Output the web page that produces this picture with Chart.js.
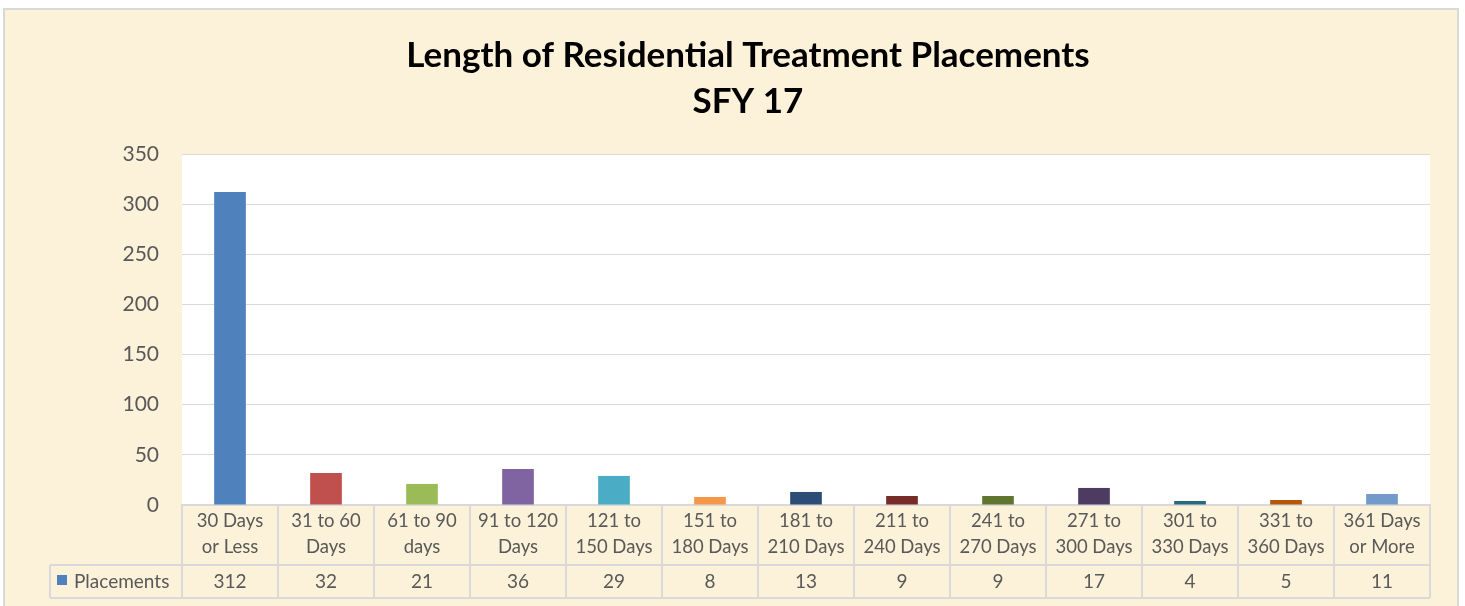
<!DOCTYPE html>
<html>
<head>
<meta charset="utf-8">
<script src="https://cdn.jsdelivr.net/npm/chart.js@4.4.0/dist/chart.umd.min.js"></script>
<style>
  html, body { margin: 0; padding: 0; background: #fff; }
  #wrap { position: relative; width: 1465px; height: 606px; }
</style>
</head>
<body>
<div id="wrap"><canvas id="grafico" width="1465" height="606"></canvas></div>
<script>
// dados
const categorias = [
  ['30 Days', 'or Less'], ['31 to 60', 'Days'], ['61 to 90', 'days'], ['91 to 120', 'Days'],
  ['121 to', '150 Days'], ['151 to', '180 Days'], ['181 to', '210 Days'], ['211 to', '240 Days'],
  ['241 to', '270 Days'], ['271 to', '300 Days'], ['301 to', '330 Days'], ['331 to', '360 Days'],
  ['361 Days', 'or More']
];
const placements = [312, 32, 21, 36, 29, 8, 13, 9, 9, 17, 4, 5, 11];
const serieNome = 'Placements';
const cores = [
  '#4F81BD', '#C0504D', '#9BBB59', '#8064A2', '#4BACC6', '#F79646', '#2C4D75',
  '#772C2A', '#5F7530', '#4D3B62', '#276A7C', '#B65708', '#729ACA'
];

const FONTE = "Lato, 'Open Sans', sans-serif";
const CINZA = '#595959';
const LINHA = '#d9d9d9';

// fundo, area branca e tabela de dados
const fundoPlugin = {
  id: 'fundo',
  beforeDraw(chart) {
    const ctx = chart.ctx;
    const a = chart.chartArea;
    ctx.save();
    ctx.fillStyle = '#ffffff';
    ctx.fillRect(0, 0, chart.width, chart.height);
    ctx.fillStyle = '#fcf1d9';
    ctx.fillRect(4, 9, 1454, 597);
    ctx.strokeStyle = LINHA;
    ctx.lineWidth = 2;
    ctx.strokeRect(4, 9, 1454, 600);
    ctx.fillStyle = '#ffffff';
    ctx.fillRect(a.left, a.top, a.right - a.left, a.bottom - a.top);
    ctx.restore();
  },
  afterDraw(chart) {
    const ctx = chart.ctx;
    const a = chart.chartArea;
    const x = chart.scales.x;
    const passo = (a.right - a.left) / categorias.length;
    const yMeio = a.bottom + 60;
    const yFim = a.bottom + 93;
    const xIni = 50;
    ctx.save();
    ctx.strokeStyle = LINHA;
    ctx.lineWidth = 2;
    ctx.beginPath();
    for (let i = 0; i <= categorias.length; i++) {
      const px = Math.round(a.left + i * passo);
      ctx.moveTo(px, a.bottom);
      ctx.lineTo(px, yFim);
    }
    ctx.moveTo(xIni, yMeio); ctx.lineTo(a.right, yMeio);
    ctx.moveTo(xIni, yFim); ctx.lineTo(a.right, yFim);
    ctx.moveTo(xIni, yMeio); ctx.lineTo(xIni, yFim);
    ctx.stroke();

    // legenda da serie
    ctx.fillStyle = cores[0];
    ctx.fillRect(57, yMeio + 10, 10, 10);
    ctx.fillStyle = CINZA;
    ctx.font = '19px ' + FONTE;
    ctx.textBaseline = 'middle';
    ctx.textAlign = 'left';
    ctx.fillText(serieNome, 74, (yMeio + yFim) / 2);

    ctx.textAlign = 'center';
    placements.forEach((v, i) => {
      ctx.fillText(String(v), x.getPixelForValue(i), (yMeio + yFim) / 2);
    });
    ctx.restore();
  }
};

const ctxGrafico = document.getElementById('grafico').getContext('2d');
const grafico = new Chart(ctxGrafico, {
  type: 'bar',
  data: {
    labels: categorias,
    datasets: [{
      label: serieNome,
      data: placements,
      backgroundColor: cores,
      borderWidth: 0,
      categoryPercentage: 1,
      barPercentage: 0.33
    }]
  },
  options: {
    responsive: false,
    animation: false,
    layout: { padding: { left: 66, right: 35, top: 0, bottom: 8 } },
    plugins: {
      legend: { display: false },
      tooltip: { enabled: false },
      title: {
        display: true,
        text: ['Length of Residential Treatment Placements', 'SFY 17'],
        color: '#000000',
        font: { family: FONTE, size: 35, weight: 'bold', lineHeight: 1.3 },
        padding: { top: 33, bottom: 30 }
      }
    },
    scales: {
      x: {
        grid: { display: false, drawTicks: false },
        border: { display: true, color: LINHA, width: 2 },
        ticks: {
          color: CINZA,
          font: { family: FONTE, size: 18.5, lineHeight: 1.42 },
          padding: 3,
          maxRotation: 0,
          autoSkip: false
        },
        afterFit(s) { s.height = 93; }
      },
      y: {
        min: 0,
        max: 350,
        grid: { color: LINHA, lineWidth: 1, drawTicks: false },
        border: { display: false },
        ticks: {
          stepSize: 50,
          color: CINZA,
          font: { family: FONTE, size: 21 },
          padding: 23
        },
        afterFit(s) { s.width = 116; }
      }
    }
  },
  plugins: [fundoPlugin]
});
</script>
</body>
</html>
